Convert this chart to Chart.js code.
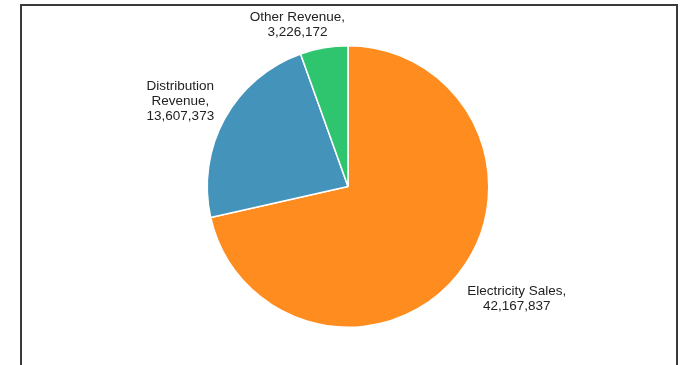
<!DOCTYPE html>
<html>
<head>
<meta charset="utf-8">
<script src="https://cdn.jsdelivr.net/npm/chart.js@4/dist/chart.umd.min.js"></script>
<style>
  html, body { margin: 0; padding: 0; background: #fff; }
  #frame {
    position: absolute; left: 20px; top: 4px;
    width: 654px; height: 420px;
    border: 2px solid #3a3a3a;
  }
  #wrap { position: absolute; left: 0; top: 0; width: 683px; height: 365px; }
</style>
</head>
<body>
<div id="frame"></div>
<div id="wrap"><canvas id="pieChart" width="683" height="365"></canvas></div>
<script>
const categories = ['Electricity Sales', 'Distribution Revenue', 'Other Revenue'];
const revenue = [42167837, 13607373, 3226172];
const sliceColors = ['#ff8c1e', '#4393bb', '#2fc46e'];

// label lines per slice, wrapped the way they are shown
const labelLines = [
  ['Electricity Sales,', '42,167,837'],
  ['Distribution', 'Revenue,', '13,607,373'],
  ['Other Revenue,', '3,226,172']
];

const clamp = (v, lo, hi) => Math.max(lo, Math.min(hi, v));

// draws "name, value" outside each slice
const outsideLabels = {
  id: 'outsideLabels',
  afterDatasetsDraw(chart) {
    const ctx = chart.ctx;
    const meta = chart.getDatasetMeta(0);
    ctx.save();
    ctx.font = '13.5px "Liberation Sans", Arial, sans-serif';
    ctx.fillStyle = '#222';
    ctx.textAlign = 'center';
    ctx.textBaseline = 'middle';
    const lineH = 15;
    meta.data.forEach((arc, i) => {
      const p = arc.getProps(['x', 'y', 'startAngle', 'endAngle', 'outerRadius'], true);
      const mid = (p.startAngle + p.endAngle) / 2;
      const c = Math.cos(mid), s = Math.sin(mid);
      const r = p.outerRadius + 12;
      const lines = labelLines[i];
      const w = Math.max(...lines.map(t => ctx.measureText(t).width));
      const h = lines.length * lineH;
      const cx = p.x + r * c + (w / 2) * clamp(3 * c, -1, 1);
      const cy = p.y + r * s + (h / 2) * clamp(1.4 * s, -1, 1) + 4;
      lines.forEach((t, k) => {
        ctx.fillText(t, cx, cy - h / 2 + lineH * (k + 0.5));
      });
    });
    ctx.restore();
  }
};

const ctx = document.getElementById('pieChart').getContext('2d');
new Chart(ctx, {
  type: 'pie',
  data: {
    labels: categories,
    datasets: [{
      data: revenue,
      backgroundColor: sliceColors,
      borderColor: '#fff',
      borderWidth: 1.5
    }]
  },
  options: {
    responsive: false,
    animation: false,
    layout: { padding: { left: 13, right: 0, top: 45, bottom: 37 } },
    plugins: {
      legend: { display: false },
      tooltip: { enabled: false }
    }
  },
  plugins: [outsideLabels]
});
</script>
</body>
</html>
